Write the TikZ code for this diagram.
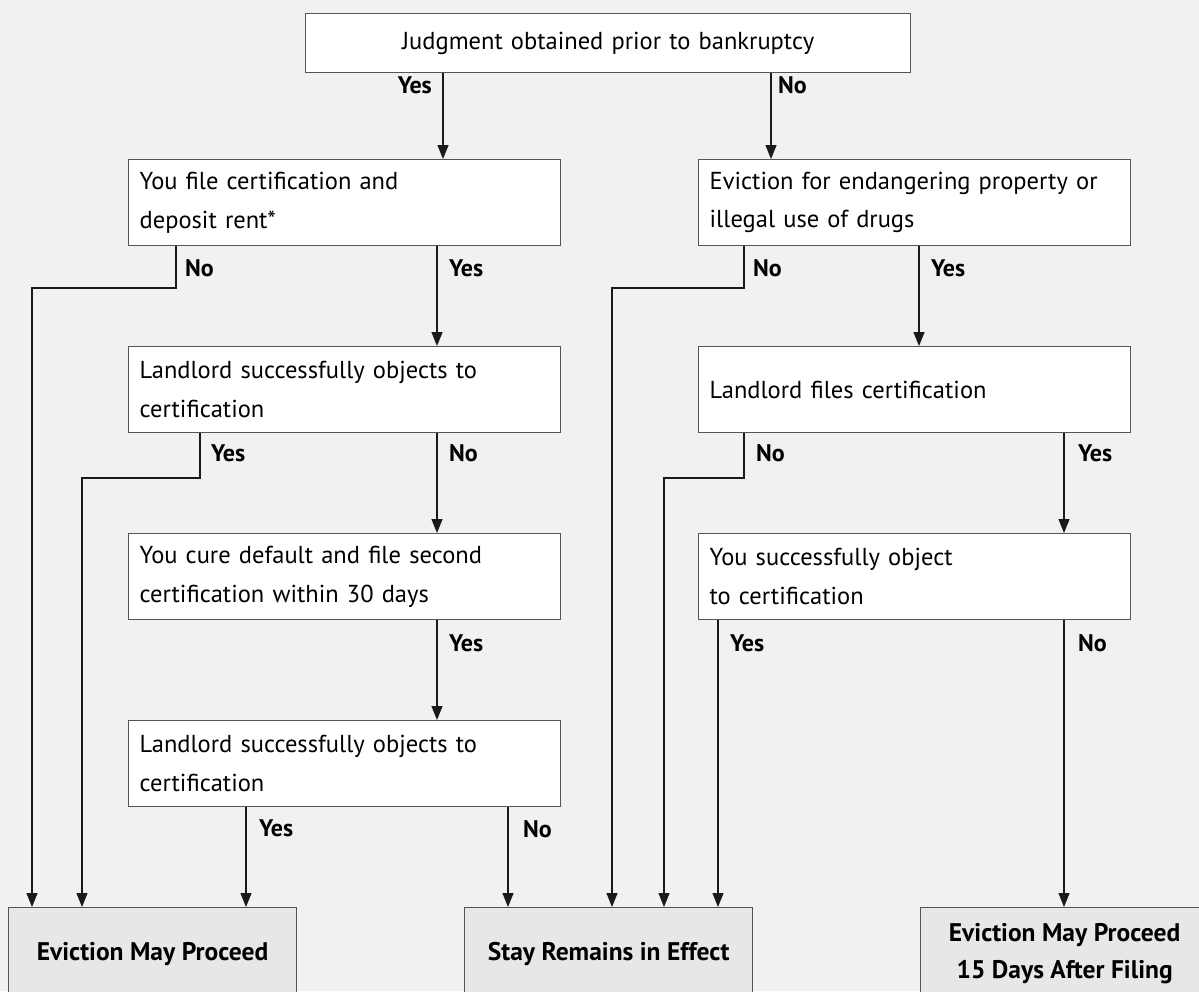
\documentclass[tikz,border=0pt]{standalone}
\usepackage{fontspec}
\setmainfont{PT Sans}
\usetikzlibrary{arrows.meta,calc}
\definecolor{bgc}{HTML}{F1F1F1}
\definecolor{endfill}{HTML}{E6E7E8}
\definecolor{boxline}{HTML}{555555}
\definecolor{lnc}{HTML}{1A1A1A}
\begin{document}
\begin{tikzpicture}[x=1pt,y=-1pt,
  box/.style={draw=boxline, line width=1.3pt, fill=white, anchor=north west,
    inner xsep=11pt, inner ysep=0pt, align=left, text width=410pt,
    minimum height=86pt, font=\fontsize{24.5}{38.5}\selectfont},
  endbox/.style={draw=boxline, line width=1.3pt, fill=endfill, anchor=north west,
    inner sep=0pt, align=center, minimum width=288pt, minimum height=92pt,
    font=\bfseries\fontsize{25.5}{37}\selectfont},
  arr/.style={draw=lnc, line width=1.2pt, -{Triangle[width=11pt,length=14pt]}},
  lab/.style={font=\bfseries\fontsize{24}{28}\selectfont, inner sep=0pt, anchor=west}]
\useasboundingbox (0,0) rectangle (1199,991);
\fill[bgc] (0,0) rectangle (1199,991);
\begin{scope}
\clip (0,0) rectangle (1199,991);
% column and row coordinates
\coordinate (c32) at (32,0);
\coordinate (c82) at (82,0);
\coordinate (c176) at (176,0);
\coordinate (c200) at (200,0);
\coordinate (c246) at (246,0);
\coordinate (c437) at (437,0);
\coordinate (c443) at (443,0);
\coordinate (c508) at (508,0);
\coordinate (c612) at (612,0);
\coordinate (c664) at (664,0);
\coordinate (c718) at (718,0);
\coordinate (c744) at (744,0);
\coordinate (c771) at (771,0);
\coordinate (c919) at (919,0);
\coordinate (c1064) at (1064,0);
\coordinate (r288) at (0,288);
\coordinate (r478) at (0,478);

% boxes
\node[box, align=center, text width=583pt, minimum height=59pt] (top) at (305,13) {Judgment obtained prior to bankruptcy};
\node[box] (A) at (128,159) {You file certification and\\deposit rent*};
\node[box] (B) at (128,346) {Landlord successfully objects to\\certification};
\node[box] (C) at (128,533) {You cure default and file second\\certification within 30 days};
\node[box] (D) at (128,720) {Landlord successfully objects to\\certification};
\node[box] (Ev) at (698,159) {Eviction for endangering property or\\illegal use of drugs};
\node[box] (LF) at (698,346) {Landlord files certification};
\node[box] (E) at (698,533) {You successfully object\\to certification};
\node[endbox] (EMP) at (8,907) {Eviction May Proceed};
\node[endbox] (Stay) at (464,907) {Stay Remains in Effect};
\node[endbox] (EMP15) at (920,907) {Eviction May Proceed\\15 Days After Filing};

% connectors
\draw[arr] (top.south -| c443) -- (A.north -| c443);
\draw[arr] (top.south -| c771) -- (Ev.north -| c771);
\draw[arr] (A.south -| c176) -- (c176 |- r288) -- (c32 |- r288) -- (EMP.north -| c32);
\draw[arr] (A.south -| c437) -- (B.north -| c437);
\draw[arr] (Ev.south -| c744) -- (c744 |- r288) -- (c612 |- r288) -- (Stay.north -| c612);
\draw[arr] (Ev.south -| c919) -- (LF.north -| c919);
\draw[arr] (B.south -| c200) -- (c200 |- r478) -- (c82 |- r478) -- (EMP.north -| c82);
\draw[arr] (B.south -| c437) -- (C.north -| c437);
\draw[arr] (LF.south -| c744) -- (c744 |- r478) -- (c664 |- r478) -- (Stay.north -| c664);
\draw[arr] (LF.south -| c1064) -- (E.north -| c1064);
\draw[arr] (C.south -| c437) -- (D.north -| c437);
\draw[arr] (E.south -| c718) -- (Stay.north -| c718);
\draw[arr] (E.south -| c1064) -- (EMP15.north -| c1064);
\draw[arr] (D.south -| c246) -- (EMP.north -| c246);
\draw[arr] (D.south -| c508) -- (Stay.north -| c508);

% labels
\node[lab, anchor=east] (l1) at (432,85) {Yes};
\node[lab] (l2) at (778,85) {No};
\node[lab] (l3) at (185,268) {No};
\node[lab] (l4) at (449,268) {Yes};
\node[lab] (l5) at (753,268) {No};
\node[lab] (l6) at (931,268) {Yes};
\node[lab] (l7) at (211,453) {Yes};
\node[lab] (l8) at (449,453) {No};
\node[lab] (l9) at (756,453) {No};
\node[lab] (l10) at (1078,453) {Yes};
\node[lab] (l11) at (449,643) {Yes};
\node[lab] (l12) at (730,643) {Yes};
\node[lab] (l13) at (1078,643) {No};
\node[lab] (l14) at (259,828) {Yes};
\node[lab] (l15) at (523,829) {No};
\end{scope}
\end{tikzpicture}
\end{document}
